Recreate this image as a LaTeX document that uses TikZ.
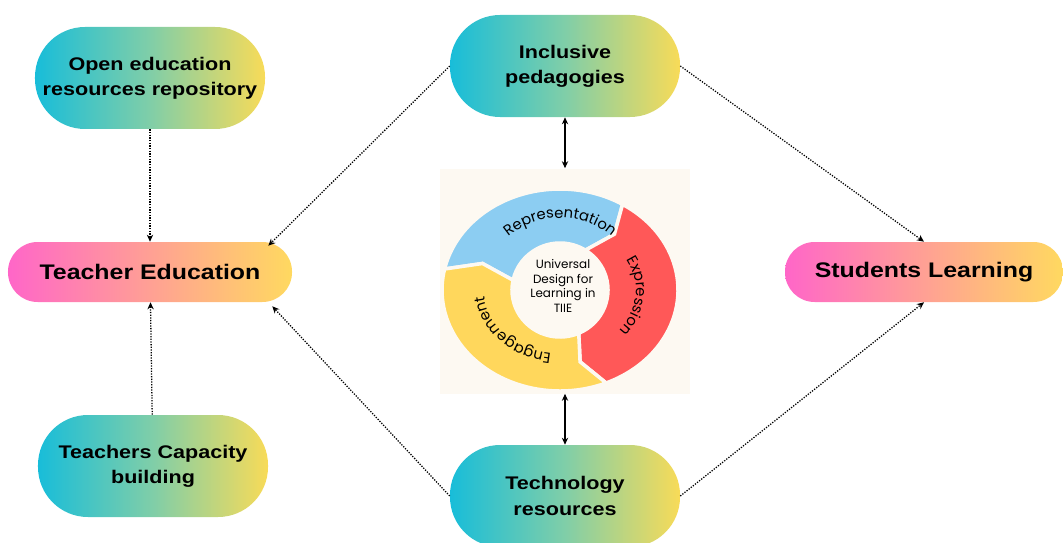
\documentclass[tikz,border=0pt]{standalone}
\usepackage{fontspec}
\setmainfont{Liberation Sans}
\newfontfamily\boxfont[FakeStretch=1.18]{Liberation Sans}
\newfontfamily\udlfont{Poppins}
\usetikzlibrary{arrows.meta,decorations.text}

\definecolor{cream}{RGB}{253,249,242}
\definecolor{tealL}{RGB}{24,189,217}
\definecolor{tealM}{RGB}{128,206,168}
\definecolor{tealR}{RGB}{248,219,88}
\definecolor{pinkL}{RGB}{255,102,200}
\definecolor{pinkM}{RGB}{255,160,148}
\definecolor{pinkR}{RGB}{255,217,96}
\definecolor{repblue}{RGB}{140,205,242}
\definecolor{expred}{RGB}{255,88,88}
\definecolor{engyellow}{RGB}{255,215,92}

% one arrow-shaped piece of the ring, from angle #2 clockwise to angle #3
\newcommand{\udlseg}[3]{%
  \filldraw[fill=#1, draw=cream, line width=2.5pt]
    ({118*cos(#2)},{101*sin(#2)}) arc[start angle=#2, end angle=#3, x radius=118, y radius=101]
    -- ({83*cos(#3-9)},{74*sin(#3-9)})
    -- ({48*cos(#3)},{47*sin(#3)}) arc[start angle=#3, end angle=#2, x radius=48, y radius=47]
    -- ({83*cos(#2-9)},{74*sin(#2-9)}) -- cycle;}

\begin{document}
\begin{tikzpicture}[x=0.25mm, y=0.25mm, node distance=48.5mm,
    tealbox/.style = {left color=tealL, right color=tealR, middle color=tealM,
                      rounded corners=12.5mm, minimum width=57.5mm, minimum height=25.5mm,
                      align=center, font=\boxfont\bfseries\fontsize{13}{18}\selectfont},
    pinkbox/.style = {left color=pinkL, right color=pinkR, middle color=pinkM,
                      rounded corners=7.4mm, minimum width=71mm, minimum height=15mm,
                      font=\boxfont\bfseries\fontsize{15}{18}\selectfont},
    panel/.style   = {fill=cream, minimum width=62.5mm, minimum height=56.25mm},
    link/.style    = {densely dotted, line width=0.9pt, -{Stealth[length=5pt,width=4.5pt]}},
    both/.style    = {line width=0.9pt, {Stealth[length=5pt,width=4.5pt]}-{Stealth[length=5pt,width=4.5pt]}},
    ringtext/.style = {decorate, decoration={text along path, text align=center,
                       text={|\udlfont\fontsize{10.5}{12}\selectfont|#1}}}]
    \useasboundingbox (0,0) rectangle (1063,542);

    \node[pinkbox] (1) at (150,270)          {Teacher Education};
    \node[tealbox] (2) [above of=1]          {Open education\\resources repository};
    \node[tealbox] (3) [below of=1, xshift=0.75mm] {Teachers Capacity\\building};
    \node[tealbox] (4) at (565,476)          {Inclusive\\pedagogies};
    \node[panel]   (5) [below of=4, node distance=53.75mm] {};
    \node[tealbox] (6) [below of=5, node distance=53.75mm] {Technology\\resources};
    \node[pinkbox, minimum width=69.5mm] (7) at (924,270) {Students Learning};

    \begin{scope}[shift={(560,252)}]
        \udlseg{repblue}{168}{58}
        \udlseg{expred}{58}{-67}
        \udlseg{engyellow}{-67}{-192}
        \path[ringtext=Representation] ({77*cos(165)},{72*sin(165)})
            arc[start angle=165, end angle=15, x radius=77, y radius=72];
        \path[ringtext=Expression] ({76*cos(55)},{64*sin(55)})
            arc[start angle=55, end angle=-65, x radius=76, y radius=64];
        \path[ringtext=Engagement] ({76*cos(292)},{64*sin(292)})
            arc[start angle=292, end angle=152, x radius=76, y radius=64];
    \end{scope}
    \node[align=center, font=\udlfont\fontsize{8.5}{10.5}\selectfont] (8) at (563,256)
        {Universal\\Design for\\Learning in\\TIIE};

    \draw[link] (2) -- (1);
    \draw[link] (3) -- (1);
    \draw[link] (4.west) -- ([xshift=-6mm,yshift=-1mm]1.north east);
    \draw[link] (6.west) -- ([xshift=-5mm,yshift=-1mm]1.south east);
    \draw[link] (4.east) -- (7.north);
    \draw[link] (6.east) -- (7.south);
    \draw[both] (4) -- (5);
    \draw[both] (6) -- (5);
\end{tikzpicture}
\end{document}
